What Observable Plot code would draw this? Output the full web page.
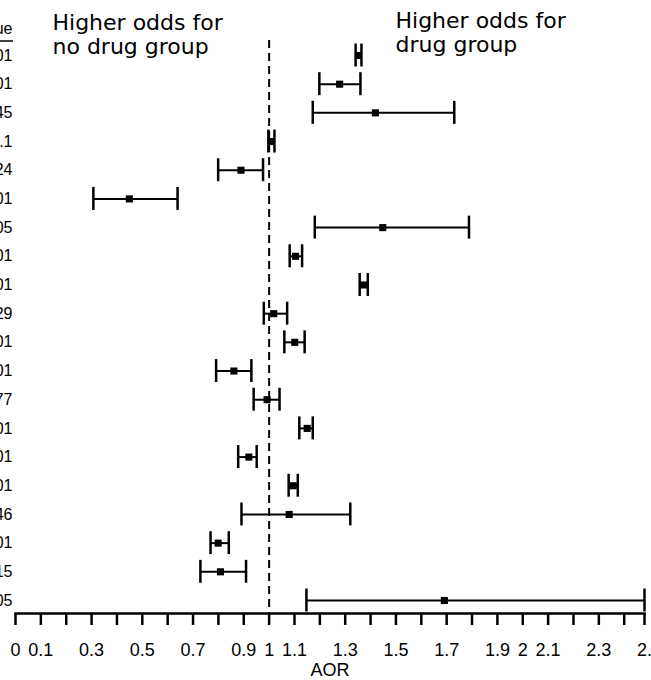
<!DOCTYPE html>
<html>
<head>
<meta charset="utf-8">
<script src="https://cdn.jsdelivr.net/npm/d3@7"></script>
<script src="https://cdn.jsdelivr.net/npm/@observablehq/plot@0.6"></script>
<style>
  html, body { margin: 0; padding: 0; background: #fff; overflow: hidden; }
  #chart svg { display: block; }
</style>
</head>
<body>
<div id="chart"></div>
<script>
const rows = [1,2,3,4,5,6,7,8,9,10,11,12,13,14,15,16,17,18,19,20];
const pValues = ["<0.001","<0.001","0.045","0.1","0.024","<0.001","0.005","<0.001","<0.001","0.29",
                 "<0.001","<0.001","0.77","<0.001","<0.001","<0.001","0.46","<0.001","0.015","0.005"];
const aor   = [1.352,1.278,1.419,1.009,0.889,0.449,1.448,1.104,1.372,1.018,1.101,0.861,0.992,1.150,0.920,1.095,1.079,0.799,0.808,1.691];
const lower = [1.341,1.198,1.172,0.997,0.799,0.307,1.180,1.081,1.357,0.979,1.060,0.791,0.939,1.119,0.878,1.077,0.891,0.769,0.729,1.147];
const upper = [1.364,1.360,1.730,1.021,0.976,0.639,1.788,1.130,1.389,1.071,1.140,0.930,1.041,1.172,0.951,1.113,1.320,0.841,0.909,2.480];
const tickMarks = [0,0.1,0.2,0.3,0.4,0.5,0.6,0.7,0.8,0.9,1,1.1,1.2,1.3,1.4,1.5,1.6,1.7,1.8,1.9,2,2.1,2.2,2.3,2.4,2.48];
const tickLabels = [0,0.1,0.3,0.5,0.7,0.9,1,1.1,1.3,1.5,1.7,1.9,2,2.1,2.3,2.5];
const headerText = "P value";
const leftNote = "Higher odds for\nno drug group";
const rightNote = "Higher odds for\ndrug group";
const xLabel = "AOR";

const data = rows.map((r, i) => ({row: r, p: pValues[i], aor: aor[i], lo: lower[i], hi: upper[i]}));
const capHalf = 0.4; // half-height of the whisker caps, in row units

const sans = "'Liberation Sans', Arial, Helvetica, sans-serif";
const noteFont = "'DejaVu Sans', Verdana, sans-serif";

const chart = Plot.plot({
  width: 651,
  height: 680,
  marginLeft: 15,
  marginRight: 7,
  marginTop: 40,
  marginBottom: 67,
  style: {background: "#fff", color: "#000"},
  x: {domain: [0, 2.48]},
  y: {type: "linear", domain: [1, 20], range: [55, 600], axis: null},
  marks: [
    Plot.ruleX([1], {stroke: "#000", strokeWidth: 2, strokeDasharray: "8,5"}),
    Plot.ruleY(data, {x1: "lo", x2: "hi", y: "row", stroke: "#000", strokeWidth: 2}),
    Plot.ruleX(data, {x: "lo", y1: d => d.row - capHalf, y2: d => d.row + capHalf, stroke: "#000", strokeWidth: 2.5}),
    Plot.ruleX(data, {x: "hi", y1: d => d.row - capHalf, y2: d => d.row + capHalf, stroke: "#000", strokeWidth: 2.5}),
    Plot.dot(data, {x: "aor", y: "row", symbol: "square", r: 4, fill: "#000", stroke: "none"}),
    Plot.text(data, {y: "row", text: "p", frameAnchor: "left", textAnchor: "end", dx: -3,
                     fontSize: 16, fontFamily: sans, fill: "#000"}),
    Plot.text([headerText], {frameAnchor: "top-left", textAnchor: "end", dx: -3, dy: -12,
                     lineAnchor: "middle", fontSize: 16, fontFamily: sans, fill: "#000"}),
    Plot.text([leftNote], {frameAnchor: "top-left", textAnchor: "start", lineAnchor: "top",
                     dx: 37, dy: -27, lineHeight: 1.08, fontSize: 22, fontFamily: noteFont, fill: "#000"}),
    Plot.text([rightNote], {frameAnchor: "top-left", textAnchor: "start", lineAnchor: "top",
                     dx: 380, dy: -29, lineHeight: 1.08, fontSize: 22, fontFamily: noteFont, fill: "#000"}),
    Plot.frame({anchor: "bottom", stroke: "#000", strokeWidth: 2.5}),
    Plot.axisX(tickMarks, {tickSize: 12, tickFormat: () => "", strokeWidth: 2.5, label: null}),
    Plot.axisX(tickLabels, {tickSize: 0, tickPadding: 30, tickFormat: d => String(d),
                     fontSize: 18, fontFamily: sans, fill: "#000", label: null}),
    Plot.text([xLabel], {frameAnchor: "bottom", dy: 57, lineAnchor: "middle",
                     fontSize: 18, fontFamily: sans, fill: "#000"})
  ]
});

document.getElementById("chart").appendChild(chart);

// underline of the header
const svg = d3.select(chart);
svg.append("line")
  .attr("x1", 0).attr("x2", 13)
  .attr("y1", 41).attr("y2", 41)
  .attr("stroke", "#000").attr("stroke-width", 1.5);
</script>
</body>
</html>
